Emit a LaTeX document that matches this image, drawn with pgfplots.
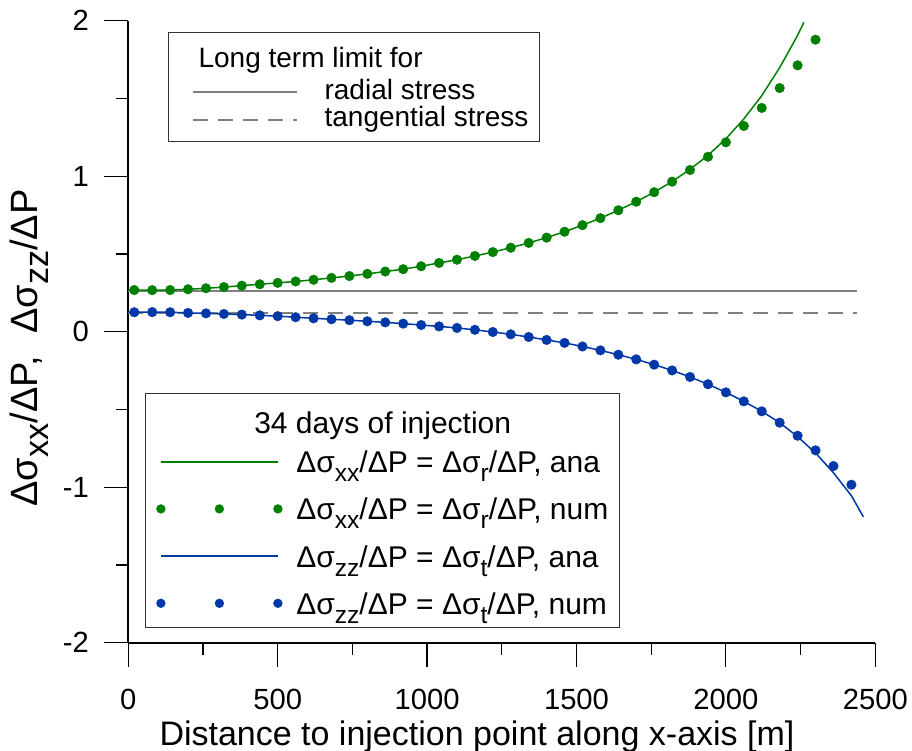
\documentclass[border=0pt]{standalone}
\usepackage{graphicx}
\usepackage{pgfplots}
\usepackage{pgfplotstable}
\pgfplotsset{compat=1.18}
\usepackage{fontspec}
\setmainfont{Liberation Sans}
\definecolor{dgreen}{RGB}{0,128,0}
\definecolor{dblue}{RGB}{0,56,168}
\definecolor{lgray}{RGB}{128,128,128}
\newcommand{\fs}{\fontsize{14}{16.8}\selectfont}
\newcommand{\fk}{\fontsize{15}{18}\selectfont}
\newcommand{\ft}{\fontsize{14.6}{17}\selectfont}
\newcommand{\fl}{\fontsize{17}{20}\selectfont}
\newcommand{\fy}{\fontsize{19}{22}\selectfont}
\newcommand{\sub}[1]{\raisebox{-0.3em}{\scalebox{0.82}{#1}}}
\newcommand{\subb}[1]{\raisebox{-0.3em}{\scalebox{0.9}{#1}}}

\pgfplotstableread{
x y
20 0.268
80 0.267
140 0.268
200 0.273
260 0.279
320 0.287
380 0.296
440 0.305
500 0.314
560 0.323
620 0.334
680 0.346
740 0.358
800 0.372
860 0.387
920 0.402
980 0.421
1040 0.442
1100 0.463
1160 0.487
1220 0.512
1280 0.540
1340 0.571
1400 0.605
1460 0.643
1520 0.685
1580 0.730
1640 0.781
1700 0.836
1760 0.897
1820 0.965
1880 1.040
1940 1.125
2000 1.218
2060 1.323
2120 1.439
2180 1.567
2240 1.713
2300 1.878
}\greennum

\pgfplotstableread{
x y
0 0.267
20 0.268
80 0.267
140 0.268
200 0.273
260 0.279
320 0.287
380 0.296
440 0.305
500 0.314
560 0.323
620 0.334
680 0.346
740 0.358
800 0.372
860 0.387
920 0.402
980 0.421
1040 0.442
1100 0.463
1160 0.487
1220 0.512
1280 0.540
1340 0.571
1400 0.605
1460 0.643
1520 0.685
1580 0.730
1640 0.781
1700 0.836
1760 0.897
1820 0.966
1880 1.044
1940 1.134
2000 1.241
2060 1.368
2120 1.518
2180 1.698
2240 1.906
2261 1.990
}\greenana

\pgfplotstableread{
x y
20 0.125
80 0.126
140 0.125
200 0.121
260 0.118
320 0.114
380 0.110
440 0.105
500 0.100
560 0.093
620 0.086
680 0.080
740 0.074
800 0.067
860 0.060
920 0.052
980 0.043
1040 0.034
1100 0.024
1160 0.012
1220 -0.002
1280 -0.017
1340 -0.034
1400 -0.053
1460 -0.072
1520 -0.095
1580 -0.120
1640 -0.148
1700 -0.178
1760 -0.212
1820 -0.249
1880 -0.291
1940 -0.338
2000 -0.390
2060 -0.448
2120 -0.512
2180 -0.585
2240 -0.669
2300 -0.763
2360 -0.864
2420 -0.984
}\bluenum

\pgfplotstableread{
x y
0 0.125
20 0.125
80 0.126
140 0.125
200 0.121
260 0.118
320 0.114
380 0.110
440 0.105
500 0.100
560 0.093
620 0.086
680 0.080
740 0.074
800 0.067
860 0.060
920 0.052
980 0.043
1040 0.034
1100 0.024
1160 0.012
1220 -0.002
1280 -0.017
1340 -0.034
1400 -0.053
1460 -0.072
1520 -0.095
1580 -0.120
1640 -0.148
1700 -0.178
1760 -0.212
1820 -0.249
1880 -0.291
1940 -0.338
2000 -0.390
2060 -0.448
2120 -0.512
2180 -0.585
2240 -0.675
2300 -0.780
2360 -0.907
2420 -1.055
2460 -1.190
}\blueana

\pgfplotsset{
  basefmt/.style={
    at={(0,0)}, anchor=south west,
    scale only axis, width=373.5pt, height=311pt,
    xmin=0, xmax=2500, ymin=-2, ymax=2, clip=false,
  },
}

\begin{document}
\begin{tikzpicture}
% axis 1: visible axes, long-term limits, legend 1
\begin{axis}[basefmt,
  axis lines*=left,
  axis line style={black, line width=0.8pt},
  tick align=outside,
  major tick length=12pt, minor tick length=6pt,
  every tick/.style={black, line width=0.6pt},
  xtick={0,500,1000,1500,2000,2500},
  xticklabels={0,500,1000,1500,2000,2500},
  minor xtick={250,750,1250,1750,2250},
  ytick={-2,-1,0,1,2},
  yticklabels={-2,-1,0,1,2},
  minor ytick={-1.5,-0.5,0.5,1.5},
  tick label style={font=\ft, inner sep=0pt},
  xticklabel style={anchor=north},
  yticklabel style={anchor=east},
  xticklabel shift=11pt,
  yticklabel shift=7.5pt,
  xlabel={Distance to injection point along x-axis [m]},
  ylabel={Δσ\subb{xx}/ΔP,\hspace{0.6em}Δσ\subb{zz}/ΔP},
  every axis x label/.style={at={(axis description cs:0.4668,0)}, anchor=base, yshift=-51.15pt, font=\fl},
  every axis y label/.style={at={(axis description cs:-0.1222,0.474)}, rotate=90, anchor=base, font=\fy},
  legend cell align=left,
  legend style={at={(axis description cs:0.05315,0.98232)}, anchor=north west,
    draw=black!80, line width=0.5pt, fill=white, font=\fs,
    inner xsep=5.5pt, inner ysep=4.35pt, row sep=0.8pt, column sep=13pt,
    nodes={inner sep=0pt, text height=10pt, text depth=3pt}},
]
\addlegendimage{legend image code/.code={\path[draw=none,fill=none] (-7pt,0pt) -- (0pt,11.85pt);}}
\addlegendentry{\hspace*{-63pt}\raisebox{2pt}[\height][\depth]{Long term limit for}}
\addplot[lgray, line width=1.1pt,
  legend image code/.code={\draw[lgray, line width=1.1pt] (0pt,0pt) -- (52pt,0pt);}]
  coordinates {(0,0.26) (2440,0.26)};
\addlegendentry{radial stress}
\addplot[lgray, line width=1.1pt, dash pattern=on 7.5pt off 5pt,
  legend image code/.code={\draw[lgray, line width=1.1pt, dash pattern=on 7.5pt off 5pt] (0pt,0pt) -- (52pt,0pt);}]
  coordinates {(0,0.12) (2440,0.12)};
\addlegendentry{tangential stress}
\end{axis}

% axis 2: results, legend 2
\begin{axis}[basefmt, hide axis,
  legend cell align=left,
  legend style={at={(axis description cs:0.02236,0.40145)}, anchor=north west,
    draw=black!80, line width=0.5pt, fill=white, font=\fk,
    inner xsep=5.5pt, inner ysep=4pt, row sep=10.6pt, column sep=7pt,
    nodes={inner sep=0pt, text height=12pt, text depth=1pt}},
]
\addlegendimage{legend image code/.code={\path[draw=none,fill=none] (-2pt,0pt) -- (0pt,0pt);}}
\addlegendentry{\hspace*{-21pt}\raisebox{-4pt}[\height][\depth]{34 days of injection}}
\addplot[color=dgreen, line width=0.75pt, no marks,
  legend image code/.code={\draw[draw=dgreen, color=dgreen, line width=1pt] (0pt,0pt) -- (58.5pt,0pt);}]
  table[x=x, y=y] {\greenana};
\addlegendentry{Δσ\sub{xx}/ΔP = Δσ\sub{r}/ΔP, ana}
\addplot[color=dgreen, only marks, mark=*, mark size=2.4pt, mark options={fill=dgreen, draw=dgreen, line width=0.2pt},
  legend image code/.code={\draw[dgreen] plot[only marks, mark=*, mark size=2.2pt] coordinates {(0pt,0pt) (29.25pt,0pt) (58.5pt,0pt)};}]
  table[x=x, y=y] {\greennum};
\addlegendentry{Δσ\sub{xx}/ΔP = Δσ\sub{r}/ΔP, num}
\addplot[color=dblue, line width=0.75pt, no marks,
  legend image code/.code={\draw[draw=dblue, line width=0.75pt] (0pt,0pt) -- (58.5pt,0pt);}]
  table[x=x, y=y] {\blueana};
\addlegendentry{Δσ\sub{zz}/ΔP = Δσ\sub{t}/ΔP, ana}
\addplot[color=dblue, only marks, mark=*, mark size=2.4pt, mark options={fill=dblue, draw=dblue, line width=0.2pt},
  legend image code/.code={\path[draw=none,fill=none] (0pt,-8pt) -- (0pt,0pt); \draw[dblue] plot[only marks, mark=*, mark size=2.2pt] coordinates {(0pt,0pt) (29.25pt,0pt) (58.5pt,0pt)};}]
  table[x=x, y=y] {\bluenum};
\addlegendentry{Δσ\sub{zz}/ΔP = Δσ\sub{t}/ΔP, num}
\end{axis}
\pgfresetboundingbox
\useasboundingbox (-64.15pt,-54.15pt) rectangle (391.85pt,321.35pt);
\end{tikzpicture}
\end{document}
